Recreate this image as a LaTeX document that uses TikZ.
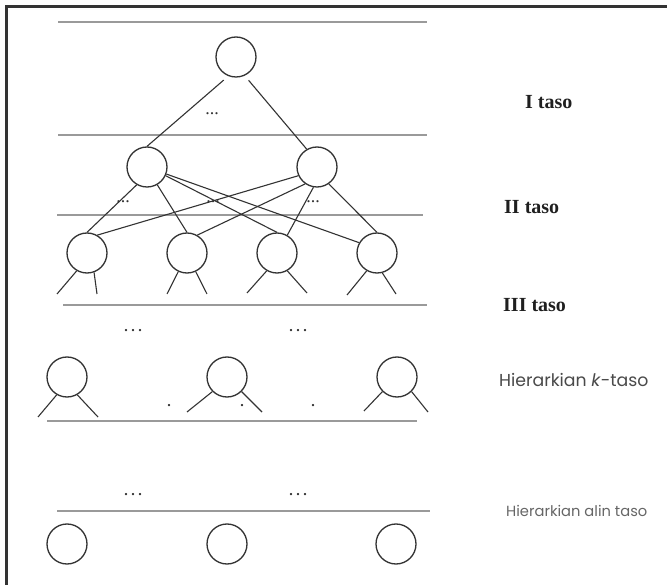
\documentclass[tikz,border=0pt]{standalone}
\usepackage{fontspec}
\setmainfont{Liberation Serif}
\newfontfamily\geofont{Poppins}
\definecolor{ink}{HTML}{333333}
\definecolor{rulegray}{HTML}{9A9A9A}
\definecolor{labelgray}{HTML}{4A4A4A}
\begin{document}
\begin{tikzpicture}[x=1pt,y=-1pt,
  lvl/.style={circle, draw=ink, line width=1.3pt, minimum size=40pt, inner sep=0pt},
  link/.style={draw=ink, line width=1.1pt},
  rule/.style={draw=rulegray, line width=1.1pt},
  frame/.style={draw=ink, line width=2.6pt},
  tier/.style={anchor=west, inner sep=0pt, text=black!88,
    font=\bfseries\fontsize{20}{24}\selectfont},
  tiersans/.style={anchor=west, inner sep=0pt, text=labelgray, font=\geofont},
  gap/.style={inner sep=0pt, text=ink, font=\fontsize{18}{20}\selectfont},
  wide gap/.style={inner sep=0pt, text=ink, font=\bfseries\fontsize{14}{16}\selectfont}]
\useasboundingbox (0,0) rectangle (667,585);
\fill[white] (0,0) rectangle (667,585);

% outer frame (left and top edges)
\draw[frame] (6.3,585) -- (6.3,6.3) -- (667,6.3);

% horizontal rules separating the levels
\draw[rule] (58,22) -- (427,22);
\draw[rule] (58,135) -- (427,135);
\draw[rule] (57,215) -- (423,215);
\draw[rule] (63,305) -- (427,305);
\draw[rule] (47,421) -- (417,421);
\draw[rule] (57,511) -- (430,511);

% nodes
\node[lvl] (T) at (236,57) {};
\node[lvl] (A) at (147,167) {};
\node[lvl] (B) at (317,167) {};
\node[lvl] (C1) at (87,253) {};
\node[lvl] (C2) at (187,253) {};
\node[lvl] (C3) at (277,253) {};
\node[lvl] (C4) at (377,253) {};
\node[lvl] (K1) at (67,377) {};
\node[lvl] (K2) at (227,377) {};
\node[lvl] (K3) at (397,377) {};
\node[lvl] (Z1) at (67,544) {};
\node[lvl] (Z2) at (227,544) {};
\node[lvl] (Z3) at (396,544) {};

% level I -> level II
\draw[link, shorten <=6pt] (T.-112) -- (A.north);
\draw[link, shorten <=6pt] (T.-65) -- (B.120);

% level II -> level III
\draw[link] (A.-120) -- (C1.north);
\draw[link] (A.-60) -- (C2.north);
\draw[link] (A.-25) -- (C3.north);
\draw[link] (A.-20) -- (C4.150);
\draw[link] (B.-155) -- (C1.60);
\draw[link] (B.-125) -- (C2.60);
\draw[link] (B.-100) -- (C3.60);
\draw[link] (B.-55) -- (C4.north);

% open branches below level III
\coordinate (c1l) at (57,294);  \coordinate (c1r) at (97,294);
\coordinate (c2l) at (167,294); \coordinate (c2r) at (207,294);
\coordinate (c3l) at (247,293); \coordinate (c3r) at (307,293);
\coordinate (c4l) at (347,295); \coordinate (c4r) at (396,294);
\draw[link] (C1.-120) -- (c1l); \draw[link] (C1.-70) -- (c1r);
\draw[link] (C2.-115) -- (c2l); \draw[link] (C2.-65) -- (c2r);
\draw[link] (C3.-120) -- (c3l); \draw[link] (C3.-60) -- (c3r);
\draw[link] (C4.-120) -- (c4l); \draw[link] (C4.-75) -- (c4r);

% open branches below level k
\coordinate (k1l) at (38,417);  \coordinate (k1r) at (98,417);
\coordinate (k2l) at (187,412); \coordinate (k2r) at (262,412);
\coordinate (k3l) at (364,411); \coordinate (k3r) at (428,412);
\draw[link] (K1.-120) -- (k1l); \draw[link] (K1.-60) -- (k1r);
\draw[link] (K2.-135) -- (k2l); \draw[link] (K2.-45) -- (k2r);
\draw[link] (K3.-135) -- (k3l); \draw[link] (K3.-45) -- (k3r);

% ellipses
\node[gap] (e1) at (212,114) {...};
\node[gap] (e2) at (123,202) {...};
\node[gap] (e3) at (213,202) {...};
\node[gap] (e4) at (313,202) {...};
\node[wide gap] (e5) at (133,331) {.\hspace{3.5pt}.\hspace{3.5pt}.};
\node[wide gap] (e6) at (298,331) {.\hspace{3.5pt}.\hspace{3.5pt}.};
\node[wide gap] (e7) at (133,495) {.\hspace{3.5pt}.\hspace{3.5pt}.};
\node[wide gap] (e8) at (298,495) {.\hspace{3.5pt}.\hspace{3.5pt}.};
\node[wide gap] (d1) at (169,406) {.};
\node[wide gap] (d2) at (242,406) {.};
\node[wide gap] (d3) at (313,406) {.};

% level labels
\node[tier] (l1) at (525,102) {I taso};
\node[tier] (l2) at (504,207) {II taso};
\node[tier] (l3) at (503,305) {III taso};
\node[tiersans, font=\geofont\fontsize{17.3}{20}\selectfont] (l4) at (499,380) {Hierarkian \textit{k}-taso};
\node[tiersans, font=\geofont\fontsize{14.7}{17}\selectfont, text=black!60] (l5) at (506,511) {Hierarkian alin taso};
\end{tikzpicture}
\end{document}
